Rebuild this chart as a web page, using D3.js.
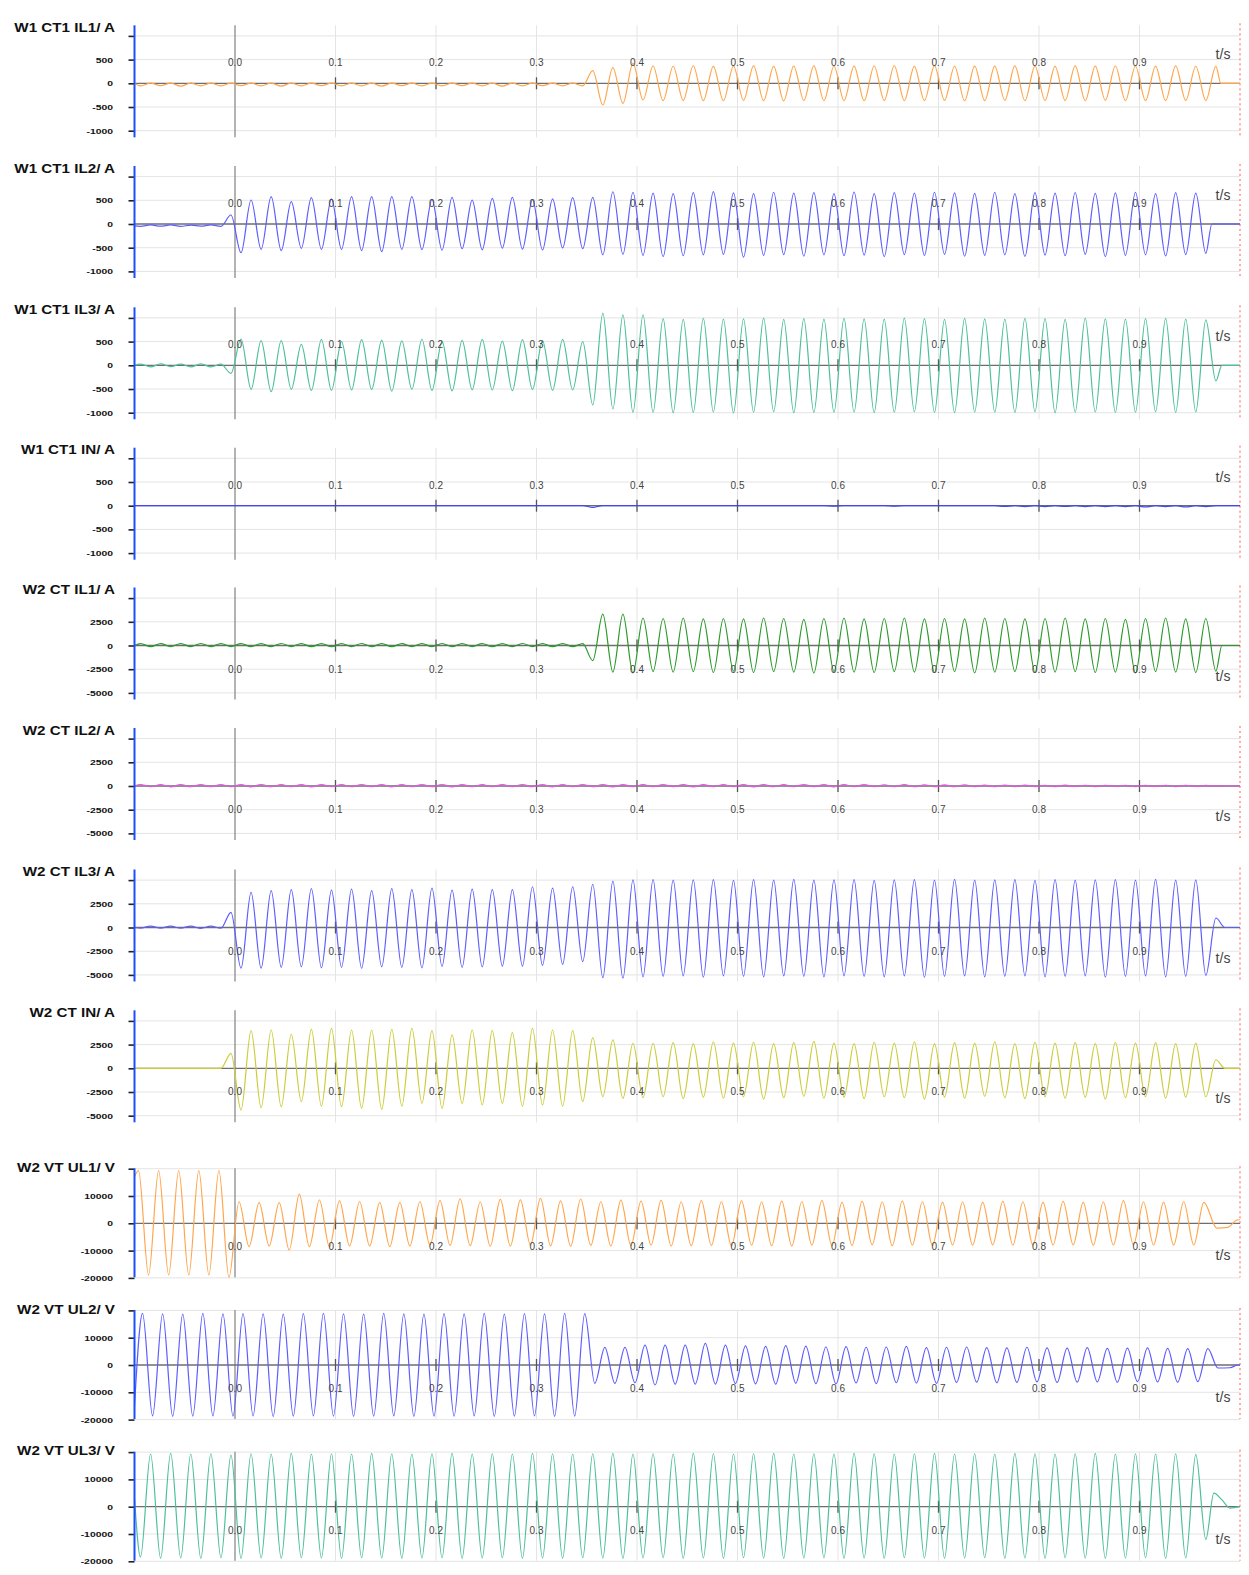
<!DOCTYPE html>
<html>
<head>
  <title>Fault record</title>
  <script src="https://d3js.org/d3.v7.min.js"></script>
  <style>
    body { margin: 0; background: #fff; }
    svg { display: block; font-family: "Liberation Sans", Arial, sans-serif; }
  </style>
</head>
<body>
  <div id="chart"></div>

  <script>
    // time axis labels, seconds
    const timeTicks = [0.0, 0.1, 0.2, 0.3, 0.4, 0.5, 0.6, 0.7, 0.8, 0.9];

    const channelNames = ["W1 CT1 IL1/ A", "W1 CT1 IL2/ A", "W1 CT1 IL3/ A", "W1 CT1 IN/ A",
      "W2 CT IL1/ A", "W2 CT IL2/ A", "W2 CT IL3/ A", "W2 CT IN/ A",
      "W2 VT UL1/ V", "W2 VT UL2/ V", "W2 VT UL3/ V"];
    const tickSteps = [500, 500, 500, 500, 2500, 2500, 2500, 2500, 10000, 10000, 10000];

    // time of the first half-cycle peak, one peak every 10 ms after it
    const halfCycle = 0.01;
    const firstPeakTimes = [-0.094, -0.094, -0.094, -0.094, -0.094, -0.094, -0.094, -0.094, -0.096, -0.092, -0.094];
    // value at t = -0.1 s
    const leadValues = [0, -40, 0, 0, 0, 0, 0, 0, 17000, -15000, 3000];

    // half-cycle peak values read from the record
    const w1Il1 = [-55,5,-50,5,-60,5,-55,5,-55,5,
      -50,5,-55,5,-60,5,-55,5,-50,5,
      -55,5,-55,5,-60,5,-50,5,-55,5,
      -55,5,-50,5,-55,5,-60,5,-55,5,
      -50,5,-55,5,-55,
      266,-458,330,-422,422,
      -352,365,-367,360,-362,370,-365,355,-368,362,
      -360,366,-365,358,-370,364,-362,368,-366,360,
      -364,362,-368,365,-360,370,-366,358,-364,366,
      -362,360,-368,364,-365,362,-360,368,-366,364,
      -362,358,-364,366,-368,362,-360,365,-364,360,
      -366,362,-365,368,-362,360,-364,358];
    const w1Il2 = [-50,-20,-45,-20,-50,-25,-45,-20,-50,
      190,
      -605,506,-534,576,-563,470,-513,555,-534,530,
      -534,576,-560,576,-584,576,-534,576,-540,520,
      -550,560,-520,505,-545,540,-510,560,-530,515,
      -548,530,-505,555,-520,
      560,-650,680,-640,670,
      -660,650,-690,640,-670,660,-650,685,-640,655,
      -700,640,-660,670,-645,650,-680,660,-650,640,
      -670,675,-655,640,-690,660,-645,650,-665,670,
      -640,655,-680,645,-660,670,-650,640,-685,660,
      -655,650,-670,665,-640,645,-690,655,-660,670,
      -650,640,-675,660,-645,650,-620];
    const w1Il3 = [25,-35,30,-30,25,-35,30,-35,25,
      -170,
      555,-507,520,-557,520,-507,443,-528,548,-528,
      500,-520,540,-510,530,-545,515,-505,550,-530,
      505,-540,525,-515,545,-520,510,-535,540,-510,
      520,-530,545,-520,500,
      -838,1100,-922,1062,-992,
      1062,-990,985,-1000,970,-995,990,-985,975,-1005,
      980,-990,995,-980,970,-1000,985,-995,975,-990,
      990,-985,980,-1000,975,-990,995,-980,985,-995,
      970,-1000,990,-985,980,-990,975,-995,990,-980,
      985,-1000,970,-990,995,-985,980,-995,975,-990,
      985,-980,990,-995,975,-985,960,-330];
    const w1In = [0,0,0,0,0,0,0,0,0,0,
      0,0,0,0,0,0,0,0,0,0,
      0,0,0,0,0,0,0,0,0,0,
      0,0,0,0,0,0,0,0,0,0,
      0,0,0,0,0,
      -35,0,0,0,0,
      0,0,0,0,0,0,0,0,0,0,
      0,0,0,0,0,0,0,0,0,-10,
      0,0,0,0,0,-10,0,0,0,0,
      0,0,0,0,0,0,-15,0,-20,0,
      -20,0,-15,0,-20,0,-20,0,-20,0,
      -25,0,-20,0,-25,0,-20,0];
    const w2Il1 = [200,-120,190,-110,200,-120,210,-120,200,-110,
      190,-120,200,-120,210,-110,200,-120,190,-120,
      200,-110,210,-120,200,-120,190,-110,200,-120,
      210,-120,200,-110,190,-120,200,-120,210,-110,
      200,-120,190,-120,200,
      -1600,3300,-2800,3300,-2900,
      2900,-2750,2850,-2800,2900,-2750,2800,-2850,2850,-2700,
      2800,-2850,2900,-2750,2850,-2800,2750,-2900,2850,-2750,
      2900,-2800,2800,-2850,2850,-2750,2900,-2800,2800,-2850,
      2850,-2750,2800,-2900,2900,-2800,2850,-2750,2800,-2850,
      2850,-2800,2900,-2750,2800,-2850,2850,-2800,2750,-2900,
      2850,-2750,2900,-2800,2800,-2850,2850,-2700];
    const w2Il2 = [150,-80,140,-90,160,-80,150,-70,140,-80,
      150,-90,160,-80,140,-80,150,-90,150,-80,
      140,-80,160,-70,150,-90,140,-80,150,-80,
      160,-90,150,-80,140,-80,150,-70,160,-80,
      150,-90,140,-80,150,-80,160,-90,150,-80,
      140,-80,150,-70,160,-90,150,-80,140,-80,
      150,-90,160,-80,140,-80,150,-70,150,-90,
      140,-80,150,-80,130,-70,140,-80,120,-70,
      110,-70,120,-60,100,-70,90,-60,100,-60,
      80,-60,90,-50,80,-60,70,-50,80,-60,
      70,-50,60,-60,70,-50,60,-40];
    const w2Il3 = [-80,150,-70,140,-80,150,-90,140,-80,
      1600,
      -4300,3700,-4300,3900,-4200,4000,-4150,4100,-4250,3950,
      -4200,4050,-4300,3900,-4150,4100,-4200,4000,-4250,4150,
      -4100,3950,-4200,4050,-4150,4000,-4080,4000,-4080,4300,
      -4000,4150,-3900,4300,-3600,
      4560,-5300,4900,-5350,5030,
      -5200,5050,-5150,5000,-5100,5030,-5250,5050,-5100,4980,
      -5150,5050,-5200,5000,-5100,5080,-5150,5000,-5200,5030,
      -5100,5050,-5150,4980,-5200,5030,-5100,5050,-5250,5000,
      -5150,5080,-5100,5000,-5200,5030,-5150,5050,-5100,4980,
      -5200,5050,-5150,5000,-5100,5030,-5250,5050,-5150,5000,
      -5100,5080,-5200,5000,-5150,5030,-5050,1000];
    const w2In = [0,0,0,0,0,0,0,0,0,
      1580,
      -4400,3970,-4150,4040,-4050,3590,-3520,4110,-4000,4220,
      -4050,4040,-4220,4040,-4330,4110,-4000,4220,-3690,3970,
      -4220,3520,-3700,4040,-3870,3970,-3700,3760,-4000,4220,
      -3870,4040,-4000,3970,-3500,
      3230,-2990,2990,-3170,2640,
      -3100,2640,-3000,2700,-3200,2600,-3050,2800,-3150,2650,
      -3000,2750,-3250,2600,-3100,2700,-2950,2850,-3150,2650,
      -3050,2600,-3200,2750,-3000,2650,-3100,2800,-3250,2600,
      -3050,2700,-3150,2650,-2950,2800,-3100,2600,-3200,2750,
      -3000,2650,-3150,2700,-3050,2600,-3250,2750,-3100,2650,
      -3000,2700,-3150,2600,-3050,2650,-3000,900];
    const w2Ul1 = [19300,-18900,19300,-18900,19300,-18900,19300,-18900,19300,-19800,
      7900,-8560,7550,-8300,7550,-9780,10700,-8560,8530,-8560,
      8200,-8300,7900,-8300,7550,-8560,7550,-8300,7900,-8000,
      8300,-8100,9000,-8200,7800,-8400,8800,-8300,8600,-8000,
      9100,-8200,8200,-8400,8900,-8100,7900,-8300,8500,-8200,
      8100,-8000,8400,-8300,7800,-8200,8300,-8100,7900,-8300,
      8200,-8000,7800,-8200,8100,-8300,7900,-8000,8300,-8200,
      7700,-8100,8000,-7900,7800,-8200,8100,-8000,7900,-8100,
      7700,-7950,7800,-8000,7700,-7900,8000,-7950,7800,-8000,
      7700,-7950,8000,-7900,7700,-8000,7800,-7950,8300,-7900,
      7800,-7950,7700,-8000,7900,-7950,7700];
    const w2Ul2 = [18900,-18600,18700,-18800,18600,-18700,18900,-18600,18700,-18700,
      18800,-18600,18700,-18900,18600,-18700,18800,-18600,18900,-18700,
      18700,-18800,18600,-18700,18900,-18600,18700,-18800,18600,-18700,
      18800,-18700,18700,-18600,18900,-18800,18600,-18700,18800,-18600,
      18700,-18800,18900,-18700,18800,
      -6700,6480,-6700,6480,-6500,
      7300,-7300,7300,-7000,7300,-7000,7950,-7000,7300,-6800,
      7000,-6900,6800,-7000,7100,-6700,6900,-6800,6600,-6900,
      6700,-6600,6500,-6800,6600,-6500,6800,-6600,6400,-6700,
      6500,-6400,6600,-6300,6400,-6500,6300,-6400,6500,-6200,
      6300,-6400,6200,-6300,6400,-6200,6100,-6300,6200,-6100,
      6300,-6200,6100,-6300,6000,-6100,6000];
    const w2Ul3 = [-18400,19300,-18900,19500,-18800,19300,-18900,19400,-18700,18900,
      -18900,19400,-18800,19300,-18900,19500,-18700,19300,-18800,19400,
      -18900,19300,-18700,19500,-18800,19400,-18900,19300,-18800,19400,
      -18700,19500,-18900,19300,-18800,19400,-18700,19300,-18900,19500,
      -18800,19400,-18900,19300,-18700,19400,-18800,19500,-18900,19300,
      -18800,19400,-18700,19300,-18900,19500,-18800,19400,-18900,19300,
      -18700,19400,-18800,19500,-18900,19300,-18800,19400,-18700,19300,
      -18900,19500,-18800,19400,-18900,19300,-18700,19400,-18800,19500,
      -18900,19300,-18800,19400,-18700,19300,-18900,19500,-18800,19400,
      -18900,19300,-18700,19400,-18800,19500,-18900,19300,-18800,19400,
      -18700,19300,-18900,19400,-18800,19200,-12000];

    // end of record: [t, value]
    const tailPoints = [
      [[0.981, 0], [1.0, 0]],
      [[0.972, 0], [1.0, 0]],
      [[0.982, 0], [1.0, 0]],
      [[1.0, 0]],
      [[0.982, 0], [1.0, 0]],
      [[0.982, 0], [1.0, 0]],
      [[0.985, 0], [1.0, 0]],
      [[0.985, 0], [1.0, 0]],
      [[0.977, -1800], [0.988, -1500], [0.997, 1200], [1.0, 1300]],
      [[0.978, -1100], [0.99, -1000], [0.998, 0], [1.0, 0]],
      [[0.974, 5000], [0.982, 2500], [0.99, -500], [1.0, 0]]
    ];

    const channelPeaks = [w1Il1, w1Il2, w1Il3, w1In, w2Il1, w2Il2, w2Il3, w2In, w2Ul1, w2Ul2, w2Ul3];
    const traceColors = ["#ffa64d", "#5c5cff", "#4dbf9c", "#4646ee", "#2a9a2a", "#e05ae0",
      "#5c5cff", "#cccc3a", "#ffa64d", "#5c5cff", "#4dbf9c"];

    // layout
    const width = 1249, height = 1575;
    const zeroLines = [83.3, 224, 365.3, 505.7, 645.5, 786, 927.5, 1068.3, 1223.3, 1365, 1506.7];

    const svg = d3.select("#chart")
      .append("svg")
      .attr("width", width)
      .attr("height", height);

    const xScale = d3.scaleLinear()
      .domain([-0.1, 1.0])
      .range([134.5, 1240]);

    channelNames.forEach((name, i) => drawPanel(i));

    function drawPanel(i) {
      const zero = zeroLines[i];
      const step = tickSteps[i];
      const voltage = i >= 8;
      const stepPx = voltage ? 27.3 : 23.7;
      const top = zero - (voltage ? 55 : 58);
      const bottom = zero + 54;

      const yScale = d3.scaleLinear()
        .domain([-2 * step, 2 * step])
        .range([zero + 2 * stepPx, zero - 2 * stepPx]);
      const yTicks = [2 * step, step, 0, -step, -2 * step];

      const g = svg.append("g");

      // horizontal grid
      g.selectAll(".hgrid")
        .data(yTicks.filter(d => d !== 0))
        .enter()
        .append("line")
        .attr("x1", xScale(-0.1))
        .attr("x2", xScale(1.0))
        .attr("y1", d => yScale(d))
        .attr("y2", d => yScale(d))
        .attr("stroke", "#e4e4e4")
        .attr("stroke-width", 1);

      // vertical grid
      g.selectAll(".vgrid")
        .data(timeTicks)
        .enter()
        .append("line")
        .attr("x1", d => xScale(d))
        .attr("x2", d => xScale(d))
        .attr("y1", top)
        .attr("y2", bottom)
        .attr("stroke", d => d === 0 ? "#8a8a8a" : "#e4e4e4")
        .attr("stroke-width", d => d === 0 ? 1.3 : 1);

      // time axis along zero
      g.append("line")
        .attr("x1", xScale(-0.1))
        .attr("x2", xScale(1.0))
        .attr("y1", zero)
        .attr("y2", zero)
        .attr("stroke", "#6e6e6e")
        .attr("stroke-width", 1.3);

      g.selectAll(".xmark")
        .data(timeTicks.filter(d => d > 0))
        .enter()
        .append("line")
        .attr("x1", d => xScale(d))
        .attr("x2", d => xScale(d))
        .attr("y1", zero - 6)
        .attr("y2", zero + 6)
        .attr("stroke", "#555")
        .attr("stroke-width", 1.3);

      // end-of-record marker
      g.append("line")
        .attr("x1", xScale(1.0))
        .attr("x2", xScale(1.0))
        .attr("y1", top - 2)
        .attr("y2", bottom)
        .attr("stroke", "#ff5a5a")
        .attr("stroke-width", 1)
        .attr("stroke-dasharray", "2,3");

      // waveform
      const points = [[-0.1, leadValues[i]]];
      channelPeaks[i].forEach((v, k) => points.push([firstPeakTimes[i] + halfCycle * k, v]));
      tailPoints[i].forEach(p => points.push(p));

      const line = d3.line()
        .x(d => xScale(d[0]))
        .y(d => yScale(d[1]))
        .curve(d3.curveMonotoneX);

      g.append("path")
        .datum(points)
        .attr("fill", "none")
        .attr("stroke", traceColors[i])
        .attr("stroke-width", 1.2)
        .attr("d", line);

      // time labels
      const labelY = i < 4 ? zero - 17 : zero + 27;
      g.selectAll(".tlabel")
        .data(timeTicks)
        .enter()
        .append("text")
        .attr("x", d => xScale(d))
        .attr("y", labelY)
        .attr("text-anchor", "middle")
        .style("font-size", "10px")
        .style("fill", "#444")
        .text(d => d3.format(".1f")(d));

      g.append("text")
        .attr("x", 1223)
        .attr("y", i < 4 ? zero - 24 : (voltage ? zero + 37 : zero + 35))
        .attr("text-anchor", "middle")
        .style("font-size", "14px")
        .style("fill", "#444")
        .text("t/s");

      // value axis
      const axis = g.append("g")
        .attr("transform", "translate(" + xScale(-0.1) + ",0)")
        .call(d3.axisLeft(yScale)
          .tickValues(yTicks)
          .tickSize(6)
          .tickFormat(d => d === 2 * step ? "" : d));
      axis.select(".domain").remove();
      axis.selectAll(".tick line")
        .attr("stroke", "#222")
        .attr("stroke-width", 1.6);
      axis.selectAll(".tick text")
        .attr("x", -21.5 / 1.3)
        .attr("transform", "scale(1.3,1)")
        .style("font-size", "8px")
        .style("font-weight", "bold")
        .style("fill", "#111");

      g.append("line")
        .attr("x1", xScale(-0.1))
        .attr("x2", xScale(-0.1))
        .attr("y1", top)
        .attr("y2", bottom)
        .attr("stroke", "#1a4fff")
        .attr("stroke-width", 2);

      g.append("text")
        .attr("transform", "translate(115," + (zero - 51.5) + ") scale(1.17,1)")
        .attr("text-anchor", "end")
        .style("font-size", "13px")
        .style("font-weight", "bold")
        .style("fill", "#111")
        .text(channelNames[i]);
    }
  </script>
</body>
</html>
